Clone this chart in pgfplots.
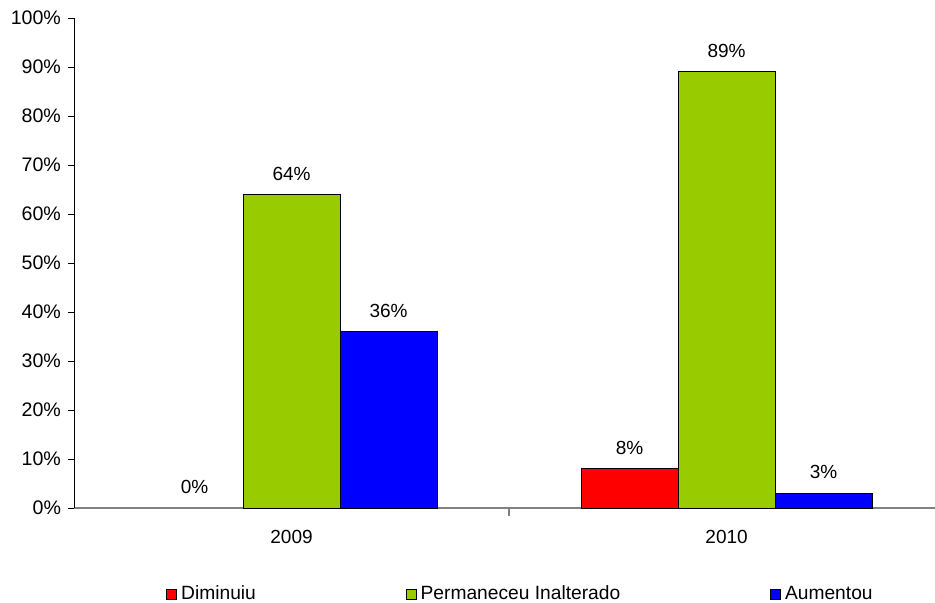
\documentclass[border=0pt]{standalone}
\usepackage{pgfplots}
\pgfplotsset{compat=1.18}
\usepackage{fontspec}
\setmainfont{Liberation Sans}

\definecolor{dimred}{HTML}{FF0000}
\definecolor{permgreen}{HTML}{99CC00}
\definecolor{aumblue}{HTML}{0000FF}

\begin{document}
\begin{tikzpicture}
% fixed page frame around the plot area
\path[use as bounding box] (-37pt,-47pt) rectangle (430.5pt,254pt);
\begin{axis}[
  scale only axis,
  width=430.5pt, height=245pt,
  font=\fontsize{9.5}{11}\selectfont,
  ybar=0pt, bar width=0.223,
  xmin=-0.5, xmax=1.479,
  ymin=0, ymax=100,
  axis lines=left,
  x axis line style={-, draw=gray, line width=0.6pt},
  y axis line style={-, draw=black, line width=0.5pt},
  ytick={0,10,...,100},
  yticklabels={0\%,10\%,20\%,30\%,40\%,50\%,60\%,70\%,80\%,90\%,100\%},
  yticklabel style={font=\fontsize{9.8}{11}\selectfont},
  xtick={0,1},
  xticklabels={2009,2010},
  major x tick style={draw=none},
  minor xtick={0.5},
  minor x tick style={draw=gray, line width=0.6pt},
  minor tick length=4pt,
  major tick length=3pt,
  tick align=outside,
  ytick style={draw=black, line width=0.5pt},
  xticklabel style={yshift=-4.5pt},
  nodes near coords={\pgfmathprintnumber[fixed,precision=0]{\pgfplotspointmeta}\%},
  nodes near coords style={font=\fontsize{9.5}{11}\selectfont, yshift=3.5pt, /pgf/number format/assume math mode=true},
  legend columns=3,
  legend style={draw=none, at={(rel axis cs:0,0)}, anchor=west,
    xshift=46pt, yshift=-43pt, inner sep=0pt,
    font=\fontsize{9.6}{11}\selectfont,
    /tikz/every even column/.style={column sep=73pt}},
  legend image code/.code={\draw[#1,draw=black,line width=0.4pt] (0pt,-2.5pt) rectangle (5pt,2.5pt);},
]
% Diminuiu: the zero bar in 2009 shows only its label
\addplot[fill=none, draw=none, bar shift=-0.223, forget plot] coordinates {(0,0)};
\addplot[fill=dimred, draw=black, line width=0.5pt, bar shift=-0.223] coordinates {(1,8)};
\addplot[fill=permgreen, draw=black, line width=0.5pt, bar shift=0] coordinates {(0,64) (1,89)};
\addplot[fill=aumblue, draw=black, line width=0.5pt, bar shift=0.223] coordinates {(0,36) (1,3)};
\addlegendentry{Diminuiu}
\addlegendentry{Permaneceu Inalterado}
\addlegendentry{Aumentou}
\end{axis}
\end{tikzpicture}
\end{document}
